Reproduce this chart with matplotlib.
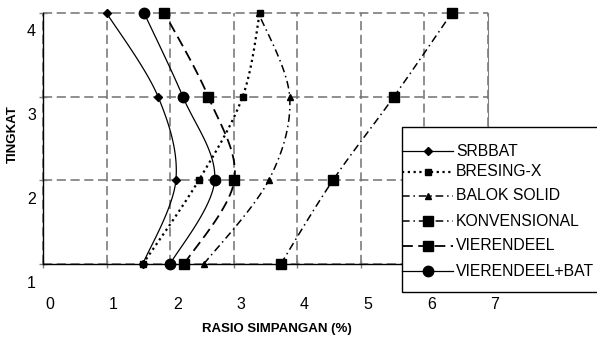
import numpy as np
import matplotlib
matplotlib.use("Agg")
import matplotlib.pyplot as plt
from matplotlib.lines import Line2D
from matplotlib.patches import Rectangle
from matplotlib.transforms import ScaledTranslation

plt.rcParams['font.family'] = ['Liberation Sans', 'DejaVu Sans']

# story levels (TINGKAT) and drift ratios (%) per system
levels = [1, 2, 3, 4]
srbbat = [1.57, 2.09, 1.81, 1.00]
bresing_x = [1.57, 2.45, 3.14, 3.41]
balok_solid = [2.53, 3.55, 3.88, 3.39]
konvensional = [3.74, 4.56, 5.52, 6.43]
vierendeel = [2.22, 3.01, 2.60, 1.91]
vierendeel_bat = [2.00, 2.70, 2.20, 1.59]

names = ["SRBBAT", "BRESING-X", "BALOK SOLID", "KONVENSIONAL",
         "VIERENDEEL", "VIERENDEEL+BAT"]
series = [srbbat, bresing_x, balok_solid, konvensional, vierendeel, vierendeel_bat]

styles = [
    dict(ls='-', lw=0.9, marker='D', ms=4.0),
    dict(ls=(0, (1, 1.6)), lw=1.6, marker='s', ms=4.5),
    dict(ls=(0, (5, 2.5, 1, 2.5)), lw=1.1, marker='^', ms=5.0),
    dict(ls=(0, (5, 2.5, 1, 2.5)), lw=1.1, marker='s', ms=7.5),
    dict(ls=(0, (6, 3)), lw=1.3, marker='s', ms=7.5),
    dict(ls='-', lw=0.9, marker='o', ms=7.5),
]


def smooth(xs, ys, n=40, sx=63.6, sy=83.7):
    """Excel-like smoothed line (Catmull-Rom as cubic Bezier)."""
    p = np.column_stack([np.asarray(xs) * sx, np.asarray(ys) * sy])
    out = []
    t = np.linspace(0, 1, n)[:, None]
    for i in range(len(p) - 1):
        p0 = p[max(i - 1, 0)]
        p1, p2 = p[i], p[i + 1]
        p3 = p[min(i + 2, len(p) - 1)]
        c1 = p1 + (p2 - p0) / 6
        c2 = p2 - (p3 - p1) / 6
        seg = ((1 - t) ** 3) * p1 + 3 * ((1 - t) ** 2) * t * c1 \
            + 3 * (1 - t) * t ** 2 * c2 + t ** 3 * p2
        out.append(seg if i == 0 else seg[1:])
    out = np.vstack(out)
    marks = [0] + [k * (n - 1) for k in range(1, len(p))]
    return out[:, 0] / sx, out[:, 1] / sy, marks


W, H = 597, 342
fig = plt.figure(figsize=(W / 100, H / 100), dpi=100)
ax = fig.add_axes([43 / W, 1 - 264 / H, (488 - 43) / W, (264 - 13) / H])

for vals, st in zip(series, styles):
    sx_, sy_, marks = smooth(vals, levels)
    ax.plot(sx_, sy_, color='black', linestyle=st['ls'], linewidth=st['lw'],
            marker=st['marker'], markersize=st['ms'], markevery=marks,
            clip_on=False, zorder=3)

ax.set_xlim(0, 7)
ax.set_ylim(1, 4)
ax.set_xticks(range(0, 8))
ax.set_yticks(levels)
ax.grid(True, color='#707070', linestyle=(0, (6, 3)), linewidth=1.1)
for gl in ax.get_xgridlines() + ax.get_ygridlines():
    gl.set_clip_on(False)
ax.set_axisbelow(True)

ax.spines['top'].set_visible(False)
ax.spines['right'].set_color('#808080')
ax.spines['left'].set_linewidth(1.0)
ax.spines['bottom'].set_linewidth(1.0)

ax.tick_params(axis='x', direction='inout', length=6, width=1.0,
               color='#808080', pad=21, labelsize=11.5)
ax.tick_params(axis='y', direction='inout', length=6, width=1.0,
               color='#808080', pad=2, labelsize=11.5)

# tick labels sit off their gridlines, as in the original
for lab in ax.get_xticklabels():
    lab.set_transform(lab.get_transform() + ScaledTranslation(0.07, 0, fig.dpi_scale_trans))
for lab in ax.get_yticklabels():
    lab.set_transform(lab.get_transform() + ScaledTranslation(0, -0.175, fig.dpi_scale_trans))

fig.text(277 / W, 1 - 329 / H, "RASIO SIMPANGAN (%)", ha='center', va='center',
         fontsize=9.5, fontweight='bold')
fig.text(13 / W, 1 - 134 / H, "TINGKAT", ha='center', va='center',
         rotation=90, fontsize=9.5, fontweight='bold')

# legend box, drawn by hand so the samples touch the frame
fig.add_artist(Rectangle((402 / W, 1 - 292 / H), (620 - 402) / W, (292 - 127) / H,
                         transform=fig.transFigure, facecolor='white',
                         edgecolor='black', linewidth=1.0, zorder=5))
entry_y = [151, 172, 196, 221, 246, 271]
for name, st, yy in zip(names, styles, entry_y):
    fy = 1 - yy / H
    fig.add_artist(Line2D([402 / W, 428 / W, 453 / W], [fy, fy, fy],
                          transform=fig.transFigure, color='black',
                          linestyle=st['ls'], linewidth=st['lw'],
                          marker=st['marker'], markersize=st['ms'],
                          markevery=[1], zorder=6))
    fig.text(456 / W, fy, name, ha='left', va='center', fontsize=11.3, zorder=6)

fig.savefig("out.png", dpi=100)
